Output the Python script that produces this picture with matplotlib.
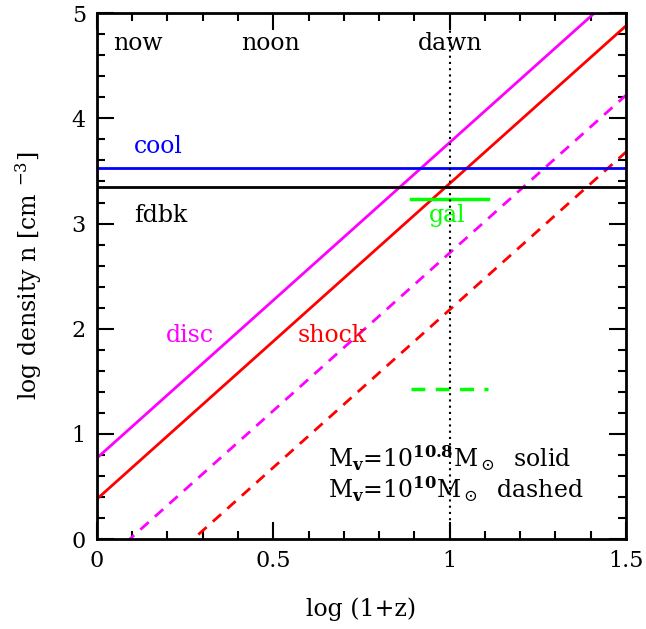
import numpy as np
import matplotlib
matplotlib.use("Agg")
from matplotlib import pyplot as plt
from matplotlib.ticker import MultipleLocator

plt.rcParams['font.family'] = ['DejaVu Serif']
plt.rcParams['mathtext.fontset'] = 'dejavuserif'

# log(1+z) range and line data: n ~ (1+z)^3
x_range = [0.0, 1.5]
slope = 3.0
disc_big = 0.77      # intercepts of log n at z=0
shock_big = 0.38
disc_small = -0.28
shock_small = -0.82
cool_level = 3.53
fdbk_level = 3.35
gal_x = [0.89, 1.11]
gal_big = 3.23
gal_small = 1.43
dawn_x = 1.0

eras = ["now", "noon", "dawn"]
era_x = [0.045, 0.41, 0.91]

fig = plt.figure(figsize=(6.46, 6.29), dpi=100)
ax = fig.add_axes([0.150, 0.143, 0.819, 0.836])

x = np.array(x_range)
ax.plot(x, disc_big + slope * x, color='#ff00ff', lw=2)
ax.plot(x, shock_big + slope * x, color='#ff0000', lw=2)
ax.plot(x, disc_small + slope * x, color='#ff00ff', lw=2, ls=(0, (4, 3)))
ax.plot(x, shock_small + slope * x, color='#ff0000', lw=2, ls=(0, (4, 3)))
ax.axhline(cool_level, color='#0000ff', lw=2)
ax.axhline(fdbk_level, color='black', lw=2)
ax.plot(gal_x, [gal_big, gal_big], color='#00ff00', lw=2.5)
ax.plot(gal_x, [gal_small, gal_small], color='#00ff00', lw=2.5, ls=(0, (4, 3)))
ax.axvline(dawn_x, color='black', lw=1.5, ls=(0, (1, 2)))

fs = 17
for name, xe in zip(eras, era_x):
    ax.text(xe, 4.65, name, fontsize=fs)
ax.text(0.105, 3.67, "cool", color='#0000ff', fontsize=fs)
ax.text(0.105, 3.01, "fdbk", color='black', fontsize=fs)
ax.text(0.94, 3.01, "gal", color='#00ff00', fontsize=fs)
ax.text(0.195, 1.87, "disc", color='#ff00ff', fontsize=fs)
ax.text(0.57, 1.87, "shock", color='#ff0000', fontsize=fs)
ax.text(0.655, 0.68, r"M$_\mathbf{v}$=10$^{\mathbf{10.8}}$M$_\odot$  solid", fontsize=fs)
ax.text(0.655, 0.39, r"M$_\mathbf{v}$=10$^{\mathbf{10}}$M$_\odot$  dashed", fontsize=fs)

ax.set_xlim(0, 1.5)
ax.set_ylim(0, 5)
ax.xaxis.set_major_locator(MultipleLocator(0.5))
ax.xaxis.set_minor_locator(MultipleLocator(0.1))
ax.yaxis.set_major_locator(MultipleLocator(1))
ax.yaxis.set_minor_locator(MultipleLocator(0.2))
ax.set_xticks([0, 0.5, 1, 1.5])
ax.set_xticklabels(["0", "0.5", "1", "1.5"])
ax.tick_params(which='both', direction='in', top=True, right=True, width=1.5, labelsize=16)
ax.tick_params(which='major', length=12, pad=8)
ax.tick_params(which='minor', length=6)
for s in ax.spines.values():
    s.set_linewidth(2)

ax.set_xlabel("log (1+z)", fontsize=fs, labelpad=18)
ax.set_ylabel(r"log density n [cm $^{-3}$]", fontsize=fs, labelpad=20)

fig.savefig("out.png", dpi=100)
